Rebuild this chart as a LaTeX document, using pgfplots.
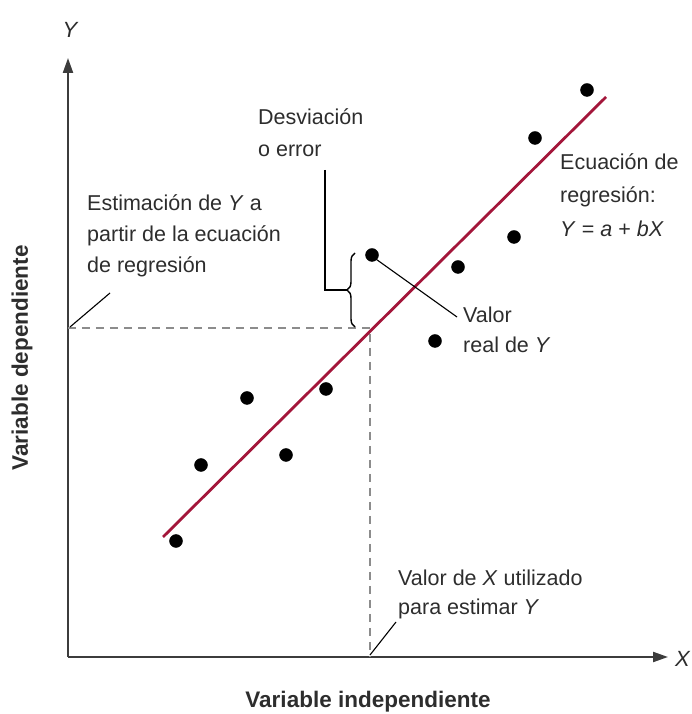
\documentclass[border=0pt]{standalone}
\usepackage{fontspec}
\setmainfont{Liberation Sans}
\usepackage{pgfplots}
\pgfplotsset{compat=1.18}
\usetikzlibrary{arrows.meta,decorations.pathreplacing}
\definecolor{regred}{RGB}{163,22,58}
\definecolor{axgray}{RGB}{60,60,60}
\definecolor{txtgray}{RGB}{45,45,45}
\definecolor{dashgray}{RGB}{140,140,140}
\tikzset{lbl/.style={font=\fontsize{21.5}{26}\selectfont, text=txtgray, inner sep=0pt},
  lead/.style={draw=black, line width=1.1pt}}

\begin{document}
\begin{tikzpicture}
\useasboundingbox (-68pt,-57pt) rectangle (624pt,657pt);
\begin{axis}[
  at={(0pt,0pt)}, anchor=origin,
  x=1pt, y=1pt,
  xmin=0, xmax=600, ymin=0, ymax=599,
  enlargelimits=false,
  axis lines=left,
  axis line style={draw=axgray, line width=2.2pt, -{Triangle[length=15pt,width=10pt]}},
  xtick=\empty, ytick=\empty,
  clip=false,
]
% guide lines for the estimate
\addplot[dashgray, line width=1.4pt, dash pattern=on 8pt off 6pt] coordinates {(0,329) (302,329) (302,0)};
% regression line
\addplot[regred, line width=2.8pt] coordinates {(95,120) (538,560)};
% observed values
\addplot[only marks, mark=*, mark size=6.5pt, black] coordinates {
  (108,116) (133,192) (179,259) (218,202) (258,268) (304,402)
  (367,316) (390,390) (446,420) (467,519) (519,567)
};

% axis names
\node[lbl, font=\fontsize{22}{26}\selectfont\itshape] at (axis cs:2,627) {Y};
\node[lbl, font=\fontsize{22}{26}\selectfont\itshape, anchor=east] at (axis cs:622,-2) {X};
\node[lbl, font=\fontsize{22.5}{26}\selectfont\bfseries, rotate=90] at (axis cs:-46,299) {Variable dependiente};
\node[lbl, font=\fontsize{22.5}{26}\selectfont\bfseries, anchor=base] at (axis cs:300,-50) {Variable independiente};

% annotations
\node[lbl, anchor=base west] at (axis cs:190,532) {Desviación};
\node[lbl, anchor=base west] at (axis cs:190,500) {o error};
\draw[draw=black, line width=2.4pt] (axis cs:257,487) -- (axis cs:257,367) -- (axis cs:279,367);
\draw[draw=black, line width=1.4pt, decorate, decoration={brace, amplitude=8pt}]
  (axis cs:287,330) -- (axis cs:287,404);

\node[lbl, anchor=base west] at (axis cs:19,446) {Estimación de \textit{Y} a};
\node[lbl, anchor=base west] at (axis cs:19,415) {partir de la ecuación};
\node[lbl, anchor=base west] at (axis cs:19,384) {de regresión};
\draw[lead] (axis cs:2,330) -- (axis cs:42,364);

\node[lbl, anchor=base west] at (axis cs:492,487) {Ecuación de};
\node[lbl, anchor=base west] at (axis cs:492,454) {regresión:};
\node[lbl, anchor=base west] at (axis cs:492,420) {\textit{Y} = \textit{a} + \textit{bX}};

\node[lbl, anchor=base west] at (axis cs:395,334) {Valor};
\node[lbl, anchor=base west] at (axis cs:395,304) {real de \textit{Y}};
\draw[lead] (axis cs:305,400) -- (axis cs:389,340);

\node[lbl, anchor=base west] at (axis cs:330,71) {Valor de \textit{X} utilizado};
\node[lbl, anchor=base west] at (axis cs:330,43) {para estimar \textit{Y}};
\draw[lead] (axis cs:302,2) -- (axis cs:328,35);
\end{axis}
\end{tikzpicture}
\end{document}
